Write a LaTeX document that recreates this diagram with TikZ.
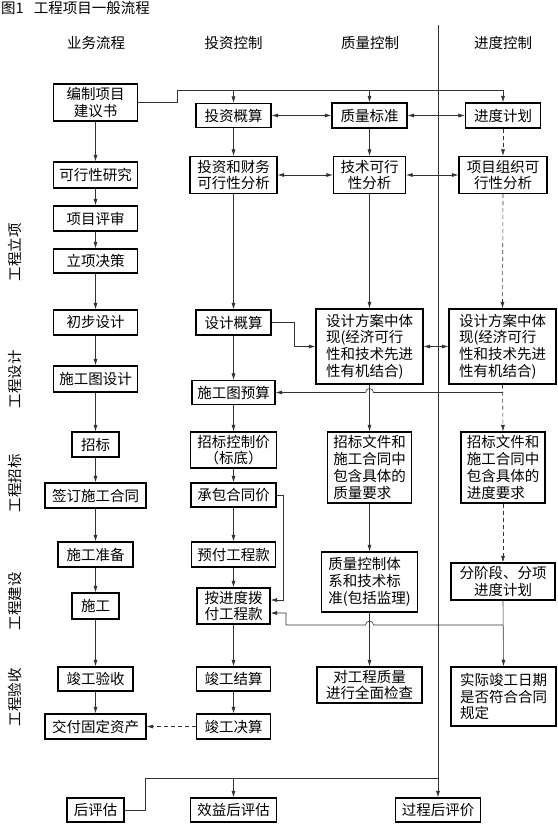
\documentclass[tikz,border=0pt]{standalone}
\usepackage{fontspec}
\setmainfont{Noto Sans CJK SC}
\usetikzlibrary{arrows.meta}
\tikzset{
  bx/.style={draw, line width=1.2pt, inner sep=0pt, align=center},
  bxl/.style={bx, align=left},
  ln/.style={line width=0.6pt, draw=black!80},
  arr/.style={ln, -{Latex[length=6.5pt,width=4pt]}},
  darr/.style={ln, {Latex[length=6.5pt,width=4pt]}-{Latex[length=6.5pt,width=4pt]}},
  dsh/.style={dash pattern=on 4pt off 3pt},
  lab/.style={inner sep=0pt},
}
\begin{document}
\begin{tikzpicture}[x=1pt,y=-1pt,font=\fontsize{14.5}{16.8}\selectfont]
\useasboundingbox (0,0) rectangle (557,824);
% title and headers
\node[lab,anchor=west] (T) at (1,8) {图1\hspace{0.7em}工程项目一般流程};
\node[lab] (H1) at (96,43) {业务流程};
\node[lab] (H2) at (233.5,43) {投资控制};
\node[lab] (H3) at (370,43) {质量控制};
\node[lab] (H4) at (503,43) {进度控制};
% side labels
\node[lab,rotate=90] (L1) at (15,252) {工程立项};
\node[lab,rotate=90] (L2) at (15,379) {工程设计};
\node[lab,rotate=90] (L3) at (15,483) {工程招标};
\node[lab,rotate=90] (L4) at (15,601) {工程建设};
\node[lab,rotate=90] (L5) at (15,697) {工程验收};
% left column
\node[bx,minimum width=84pt,minimum height=37pt] (A1) at (95.5,102.5) {编制项目\\建议书};
\node[bx,minimum width=84pt,minimum height=26pt] (A2) at (95.5,175) {可行性研究};
\node[bx,minimum width=84pt,minimum height=25pt] (A3) at (95.5,218.5) {项目评审};
\node[bx,minimum width=84pt,minimum height=24pt] (A4) at (95.5,261) {立项决策};
\node[bx,minimum width=84pt,minimum height=25pt] (A5) at (95.5,322.5) {初步设计};
\node[bx,minimum width=84pt,minimum height=26pt] (A6) at (95.5,379) {施工图设计};
\node[bx,minimum width=47pt,minimum height=25pt] (A7) at (95.5,444.5) {招标};
\node[bx,minimum width=101pt,minimum height=25pt] (A8) at (95.5,495.5) {签订施工合同};
\node[bx,minimum width=75pt,minimum height=25pt] (A9) at (95.5,554.5) {施工准备};
\node[bx,minimum width=47pt,minimum height=26pt] (A10) at (95.5,606) {施工};
\node[bx,minimum width=75pt,minimum height=24pt] (A11) at (95.5,679) {竣工验收};
\node[bx,minimum width=101pt,minimum height=25pt] (A12) at (95.5,726.5) {交付固定资产};
\node[bx,minimum width=57pt,minimum height=24pt] (A13) at (95.5,810) {后评估};
% investment column
\node[bx,minimum width=75pt,minimum height=24pt] (B1) at (233.5,115.5) {投资概算};
\node[bx,minimum width=87pt,minimum height=37pt] (B2) at (233.5,175) {投资和财务\\可行性分析};
\node[bx,minimum width=75pt,minimum height=25pt] (B3) at (233.5,322.5) {设计概算};
\node[bx,minimum width=83pt,minimum height=24pt] (B4) at (233.5,392.5) {施工图预算};
\node[bx,minimum width=86pt,minimum height=36pt] (B5) at (233.5,450) {招标控制价\\（标底）};
\node[bx,minimum width=85pt,minimum height=24pt] (B6) at (233.5,495) {承包合同价};
\node[bx,minimum width=84pt,minimum height=25pt] (B7) at (233.5,554.5) {预付工程款};
\node[bx,minimum width=73pt,minimum height=36pt] (B8) at (233.5,606) {按进度拨\\付工程款};
\node[bx,minimum width=74pt,minimum height=24pt] (B9) at (233.5,679) {竣工结算};
\node[bx,minimum width=74pt,minimum height=25pt] (B10) at (233.5,726.5) {竣工决算};
\node[bx,minimum width=86pt,minimum height=24pt] (B11) at (233.5,810) {效益后评估};
% quality column
\node[bx,minimum width=75pt,minimum height=25pt] (C1) at (369.5,115.5) {质量标准};
\node[bx,minimum width=72pt,minimum height=37pt] (C2) at (369.5,175) {技术可行\\性分析};
\node[bxl,minimum width=107pt,minimum height=75pt] (C3) at (369.5,346.5) {设计方案中体\\现(经济可行\\性和技术先进\\性有机结合)};
\node[bxl,minimum width=84pt,minimum height=71pt] (C4) at (369.5,467.5) {招标文件和\\施工合同中\\包含具体的\\质量要求};
\node[bxl,minimum width=96pt,minimum height=60pt] (C5) at (369.5,582) {质量控制体\\系和技术标\\准(包括监理)};
\node[bx,minimum width=105pt,minimum height=36pt] (C6) at (369.5,685) {对工程质量\\进行全面检查};
% schedule column
\node[bx,minimum width=75pt,minimum height=25pt] (D1) at (503,115.5) {进度计划};
\node[bx,minimum width=88pt,minimum height=37pt] (D2) at (503,175) {项目组织可\\行性分析};
\node[bxl,minimum width=107pt,minimum height=75pt] (D3) at (502.5,346.5) {设计方案中体\\现(经济可行\\性和技术先进\\性有机结合)};
\node[bxl,minimum width=84pt,minimum height=71pt] (D4) at (503,467.5) {招标文件和\\施工合同中\\包含具体的\\进度要求};
\node[bx,minimum width=104pt,minimum height=37pt] (D5) at (503,581.5) {分阶段、分项\\进度计划};
\node[bxl,minimum width=105pt,minimum height=59pt] (D6) at (503.5,696.5) {实际竣工日期\\是否符合合同\\规定};
\node[bx,minimum width=85pt,minimum height=24pt] (D7) at (438,810) {过程后评价};
% coordinates
\coordinate (t1) at (177,90);
\coordinate (vtop) at (438,25);
\coordinate (j1) at (503,392.5);
\coordinate (j2) at (503,625);
\coordinate (bj) at (438,778);
% separator line
\draw[arr] (vtop) -- (D7.north);
% top distribution
\draw[arr] (A1.east) -- (A1.east -| t1) -- (t1) -| (D1.north);
\draw[arr] (B1.north |- t1) -- (B1.north);
\draw[arr] (C1.north |- t1) -- (C1.north);
% left column chain
\foreach \a/\b in {A1/A2,A2/A3,A3/A4,A4/A5,A5/A6,A6/A7,A7/A8,A8/A9,A9/A10,A10/A11,A11/A12}
  \draw[arr] (\a.south) -- (\b.north);
% investment chain
\foreach \a/\b in {B1/B2,B2/B3,B3/B4,B4/B5,B5/B6,B6/B7,B7/B8,B8/B9,B9/B10}
  \draw[arr] (\a.south) -- (\b.north);
% quality chain
\foreach \a/\b in {C1/C2,C2/C3,C3/C4,C4/C5,C5/C6}
  \draw[arr] (\a.south) -- (\b.north);
% schedule chain
\foreach \a/\b in {D1/D2,D2/D3,D3/D4,D4/D5}
  \draw[arr,dsh] (\a.south) -- (\b.north);
\draw[arr] (D5.south) -- (D6.north);
% horizontal double arrows
\draw[darr] (B1.east) -- (C1.west);
\draw[darr] (C1.east) -- (D1.west);
\draw[darr] (B2.east) -- (C2.west);
\draw[darr] (C2.east) -- (D2.west);
\draw[darr] (C3.east) -- (D3.west);
% design estimate to design scheme
\draw[arr] (B3.east) -- ++(23,0) |- (C3.west);
% feedback to construction drawing budget
\draw[arr] (j1) -- (373.5,392.5) arc[start angle=0,end angle=180,radius=4pt] -- (B4.east);
% contract price to payment
\draw[arr] (B6.east) -- ++(7,0) |- ([yshift=6pt]B8.east);
\draw[arr] (j2) -- (373.5,625) arc[start angle=0,end angle=180,radius=4pt] -- (286,625) |- ([yshift=-7pt]B8.east);
% final accounts to asset
\draw[arr,dsh] (B10.west) -- (A12.east);
% post evaluation
\draw[ln] (A13.east) -- ++(21,0) |- (bj);
\draw[arr] (B11.north |- bj) -- (B11.north);
\end{tikzpicture}
\end{document}
